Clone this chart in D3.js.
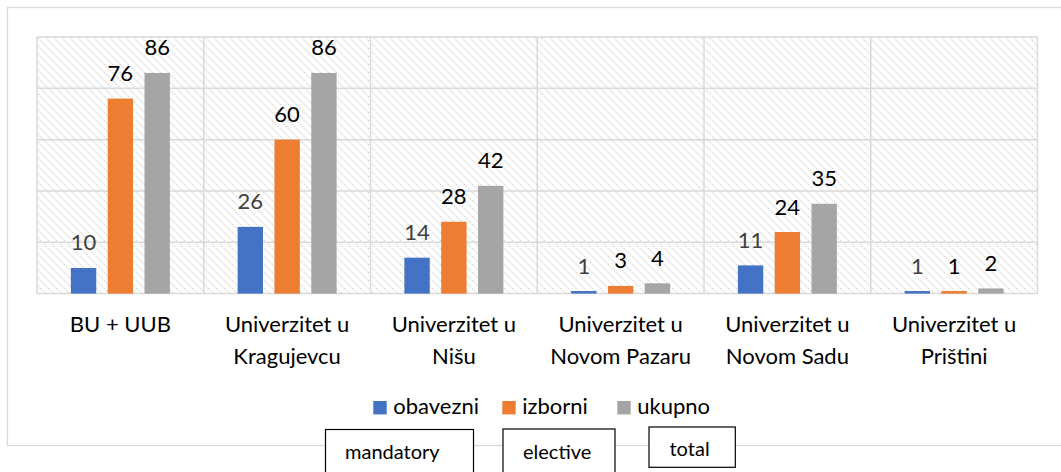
<!DOCTYPE html>
<html>
<head>
<meta charset="utf-8">
<script src="https://cdn.jsdelivr.net/npm/d3@7"></script>
<style>
html,body{margin:0;padding:0;background:#fff;}
svg{display:block;font-family:Lato,"Noto Sans",sans-serif;}
</style>
</head>
<body>
<svg id="chart" width="1061" height="472"></svg>
<script>
const categories = [["BU + UUB"], ["Univerzitet u", "Kragujevcu"], ["Univerzitet u", "Nišu"], ["Univerzitet u", "Novom Pazaru"], ["Univerzitet u", "Novom Sadu"], ["Univerzitet u", "Prištini"]];
const seriesNames = ["obavezni", "izborni", "ukupno"];
const obavezni = [10, 26, 14, 1, 11, 1];
const izborni = [76, 60, 28, 3, 24, 1];
const ukupno = [86, 86, 42, 4, 35, 2];
const yTicks = [0, 20, 40, 60, 80, 100];
const boxLabels = ["mandatory", "elective", "total"];

const colors = ["#4472C4", "#ED7D31", "#A5A5A5"];
const labelColors = ["#404040", "#000000", "#000000"];
const seriesValues = [obavezni, izborni, ukupno];

const svg = d3.select("#chart");
const defs = svg.append("defs");
const pat = defs.append("pattern").attr("id", "hatch").attr("patternUnits", "userSpaceOnUse")
  .attr("width", 8).attr("height", 8);
pat.append("rect").attr("width", 8).attr("height", 8).attr("fill", "#fff");
pat.append("path").attr("d", "M0,0 L8,8 M-4,4 L4,12 M4,-4 L12,4")
  .attr("stroke", "#d9d9d9").attr("stroke-width", 1.6).attr("stroke-dasharray", "1.4,1.4");

// outer chart border
svg.append("rect").attr("x", 7.5).attr("y", 7.5).attr("width", 1070).attr("height", 438)
  .attr("fill", "#fff").attr("stroke", "#d9d9d9").attr("stroke-width", 1.3);

const plot = {left: 37, right: 1037.5, top: 37, bottom: 293.6};
const x0 = d3.scaleBand().domain(d3.range(categories.length)).range([plot.left, plot.right]).padding(0);
const x1 = d3.scaleBand().domain(d3.range(seriesNames.length)).range([-49.5, 49.5]).paddingInner(0.311).paddingOuter(0);
const y = d3.scaleLinear().domain([0, 100]).range([plot.bottom, plot.top]);

// plot area background
svg.append("rect").attr("x", plot.left).attr("y", plot.top)
  .attr("width", plot.right - plot.left).attr("height", plot.bottom - plot.top)
  .attr("fill", "url(#hatch)");

// horizontal gridlines
svg.append("g").selectAll("line").data(yTicks).join("line")
  .attr("x1", plot.left).attr("x2", plot.right)
  .attr("y1", d => y(d)).attr("y2", d => y(d))
  .attr("stroke", "#d9d9d9").attr("stroke-width", 1.5);

// vertical gridlines (category boundaries)
const bounds = d3.range(categories.length + 1).map(i => i < categories.length ? x0(i) : plot.right);
svg.append("g").selectAll("line").data(bounds).join("line")
  .attr("x1", d => d).attr("x2", d => d)
  .attr("y1", plot.top).attr("y2", plot.bottom)
  .attr("stroke", "#d9d9d9").attr("stroke-width", 1.5);

// bars
const bars = [];
categories.forEach((c, ci) => {
  seriesValues.forEach((vals, si) => bars.push({ci, si, v: vals[ci]}));
});
const cx = ci => x0(ci) + x0.bandwidth() / 2;
svg.append("g").selectAll("rect").data(bars).join("rect")
  .attr("x", d => cx(d.ci) + x1(d.si))
  .attr("width", x1.bandwidth())
  .attr("y", d => y(d.v))
  .attr("height", d => y(0) - y(d.v))
  .attr("fill", d => colors[d.si]);

// value labels
svg.append("g").selectAll("text").data(bars).join("text")
  .attr("x", d => cx(d.ci) + x1(d.si) + x1.bandwidth() / 2)
  .attr("y", d => y(d.v) - 17.5)
  .attr("text-anchor", "middle")
  .attr("font-size", 22)
  .attr("fill", d => labelColors[d.si])
  .text(d => d.v);

// category labels
const cat = svg.append("g").selectAll("text").data(categories).join("text")
  .attr("text-anchor", "middle")
  .attr("font-size", 22)
  .attr("fill", "#000");
cat.each(function(lines, ci) {
  d3.select(this).selectAll("tspan").data(lines).join("tspan")
    .attr("x", cx(ci))
    .attr("y", (d, i) => 332 + i * 32)
    .text(d => d);
});

// legend
const legendX = [373.3, 502.3, 617.3];
const lg = svg.append("g");
seriesNames.forEach((n, i) => {
  lg.append("rect").attr("x", legendX[i]).attr("y", 401).attr("width", 13.4).attr("height", 13.4).attr("fill", colors[i]);
  lg.append("text").attr("x", legendX[i] + 20).attr("y", 414).attr("font-size", 22).attr("fill", "#000").text(n);
});

// annotation boxes
const boxes = [
  {x: 325.5, y: 429.5, w: 148, h: 60, tx: 345, ty: 458.5},
  {x: 503, y: 429, w: 112, h: 60, tx: 523, ty: 458.5},
  {x: 649, y: 427, w: 86.3, h: 40.3, tx: 669.5, ty: 456}
];
const bx = svg.append("g");
boxes.forEach((b, i) => {
  bx.append("rect").attr("x", b.x).attr("y", b.y).attr("width", b.w).attr("height", b.h)
    .attr("fill", "#fff").attr("stroke", "#000").attr("stroke-width", 1.2);
  bx.append("text").attr("x", b.tx).attr("y", b.ty).attr("font-size", 20).attr("fill", "#000").text(boxLabels[i]);
});
</script>
</body>
</html>
